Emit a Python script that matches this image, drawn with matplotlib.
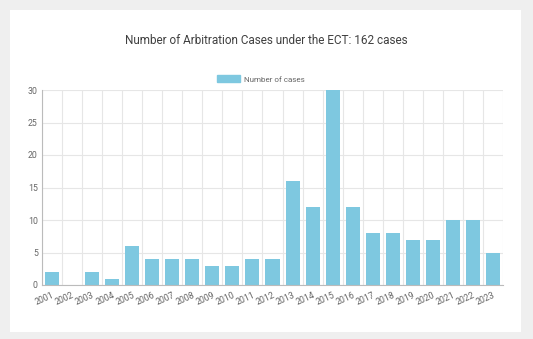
import matplotlib
matplotlib.use('Agg')
import matplotlib.pyplot as plt
from matplotlib.patches import Patch

years = [str(y) for y in range(2001, 2024)]
cases = [2, 0, 2, 1, 6, 4, 4, 4, 3, 3, 4, 4, 16, 12, 30, 12, 8, 8, 7, 7, 10, 10, 5]

plt.rcParams['font.family'] = ['Roboto', 'DejaVu Sans']

fig = plt.figure(figsize=(5.33, 3.39), dpi=100)
fig.patch.set_facecolor('#efefef')

# white card behind the chart
card = fig.add_axes([10 / 533, 1 - 332 / 339, 511 / 533, 322 / 339], zorder=-1)
card.set_facecolor('white')
card.set_xticks([])
card.set_yticks([])
for s in card.spines.values():
    s.set_visible(False)

ax = fig.add_axes([42 / 533, 1 - 285 / 339, 461 / 533, 195 / 339], zorder=1)
ax.set_facecolor('none')

bar_color = '#7ec8e0'
x = range(len(years))
ax.bar(x, cases, width=0.7, color=bar_color, zorder=2)

ax.set_xlim(-0.5, len(years) - 0.5)
ax.set_ylim(0, 30)
ax.set_yticks(range(0, 31, 5))
ax.set_xticks(list(x))
ax.set_xticklabels(years, rotation=24, ha='right', rotation_mode='anchor')
ax.set_xticks([i - 0.5 for i in range(len(years) + 1)], minor=True)

ax.grid(True, which='major', axis='y', color='#e6e6e6', linewidth=0.8, zorder=0)
ax.grid(True, which='minor', axis='x', color='#e6e6e6', linewidth=0.8, zorder=0)
ax.tick_params(axis='both', which='major', labelsize=6.3, colors='#666666', length=0, pad=3)
ax.tick_params(axis='x', which='major', pad=4)
ax.tick_params(axis='x', which='minor', length=0)
for lbl in ax.get_xticklabels():
    lbl.set_x(lbl.get_position()[0])

for s in ['top', 'right']:
    ax.spines[s].set_visible(False)
for s in ['left', 'bottom']:
    ax.spines[s].set_color('#bbbbbb')
    ax.spines[s].set_linewidth(0.8)

fig.text(266 / 533, 1 - 40 / 339, 'Number of Arbitration Cases under the ECT: 162 cases',
         ha='center', va='center', fontsize=8.5, color='#404040')

fig.legend(handles=[Patch(color=bar_color, label='Number of cases')],
           loc='center left', bbox_to_anchor=(217 / 533, 1 - 79 / 339),
           frameon=False, fontsize=5.8, handlelength=2.9, handleheight=0.9,
           handletextpad=0.5, labelcolor='#666666', borderpad=0, borderaxespad=0)

fig.savefig('out.png', dpi=100, facecolor=fig.get_facecolor())
